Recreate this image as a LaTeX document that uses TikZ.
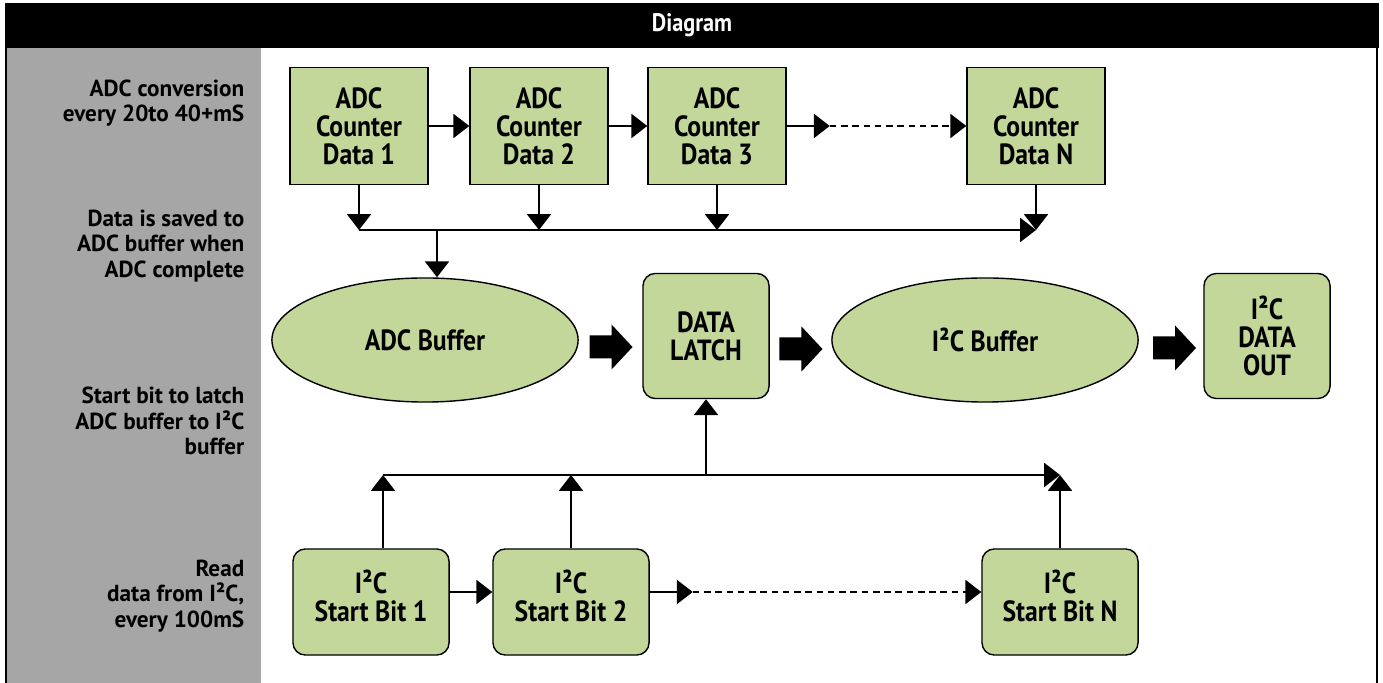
\documentclass[tikz,border=0pt]{standalone}
\usepackage{fontspec}
\setmainfont[FakeStretch=0.88]{PT Sans}
\newfontfamily\sidefont{PT Sans}
\usetikzlibrary{arrows.meta,shapes.geometric,calc}
\definecolor{boxgreen}{RGB}{196,215,155}
\definecolor{sidegray}{RGB}{166,166,166}
\newcommand{\bigarrow}[1]{\fill #1 ++(-21,-11.5) -- ++(22,0) -- ++(0,-11) -- ++(21,22.5) -- ++(-21,22.5) -- ++(0,-11) -- ++(-22,0) -- cycle;}

\begin{document}
\begin{tikzpicture}[x=0.01cm,y=-0.01cm,
        every node/.style={font=\bfseries},
        counter/.style={draw, line width=0.4pt, fill=boxgreen, minimum width=1.38cm, minimum height=1.17cm, align=center, font=\bfseries\fontsize{8.3}{8}\selectfont},
        roundbox/.style={counter, rounded corners=3.5pt},
        startbit/.style={roundbox, minimum width=1.56cm, minimum height=1.06cm, text depth=3.4pt},
        buffer/.style={ellipse, draw, line width=0.4pt, fill=boxgreen, minimum width=3.06cm, minimum height=1.24cm, font=\bfseries\fontsize{8.3}{8}\selectfont},
        sidelabel/.style={anchor=east, align=right, inner sep=0pt, font=\sidefont\bfseries\fontsize{6.6}{7.3}\selectfont},
        link/.style={line width=0.6pt, -{Triangle[length=4.5pt,width=6.8pt]}},
        dots/.style={link, dash pattern=on 1.9pt off 1.3pt},
      ]
      \useasboundingbox (0,0) rectangle (1383,683);
      % frame
      \fill[black] (6,3) rectangle (1379,48);
      \fill[sidegray] (6,48) rectangle (261,683);
      \draw[line width=0.3pt] (6,3) -- (6,683);
      \draw[line width=0.6pt] (1377,3) -- (1377,683);
      \node[text=white, font=\bfseries\fontsize{7.2}{8}\selectfont] (title) at (692,25) {Diagram};

      \node[sidelabel] (lab1) at (245,103) {ADC conversion\\every 20to 40+mS};
      \node[sidelabel] (lab2) at (245,246) {Data is saved to\\ADC buffer when\\ADC complete};
      \node[sidelabel] (lab3) at (245,421) {Start bit to latch\\ADC buffer to I²C\\buffer};
      \node[sidelabel] (lab4) at (245,596) {Read\\data from I²C,\\every 100mS};

      % ADC counters
      \node[counter] (adc1) at (359,126) {ADC\\Counter\\Data 1};
      \node[counter] (adc2) at (539,126) {ADC\\Counter\\Data 2};
      \node[counter] (adc3) at (717,126) {ADC\\Counter\\Data 3};
      \node[counter] (adcN) at (1036,126) {ADC\\Counter\\Data N};
      \coordinate (gapA) at ($(adc3.east)+(43,0)$);
      \draw[link] (adc1) -- (adc2);
      \draw[link] (adc2) -- (adc3);
      \draw[link] (adc3) -- (gapA);
      \draw[dots] (gapA) -- (adcN);

      \coordinate (topL) at (357,230);
      \coordinate (tap) at (437,230);
      \foreach \b in {adc1,adc2,adc3,adcN}
        \draw[link] (\b.south) -- (\b.south |- topL);
      \draw[link] (adc1.south |- topL) -- (adcN.south |- topL);

      % buffers and latch
      \node[buffer] (adcbuf) at (425,340) {ADC Buffer};
      \node[roundbox, minimum width=1.26cm, minimum height=1.25cm] (latch) at (706,336) {DATA\\LATCH};
      \node[buffer] (i2cbuf) at (985,340) {I²C Buffer};
      \node[roundbox, minimum width=1.26cm, minimum height=1.25cm] (out) at (1267,336) {I²C\\DATA\\OUT};
      \draw[link] (tap) -- (tap |- adcbuf.north);
      \bigarrow{($(adcbuf.east)!.5!(latch.west)+(0,9)$)}
      \bigarrow{($(latch.east)!.5!(i2cbuf.west)+(0,11)$)}
      \bigarrow{($(i2cbuf.east)!.5!(out.west)+(3,10)$)}

      % I2C start bits
      \node[startbit] (sb1) at (371,602) {I²C\\Start Bit 1};
      \node[startbit] (sb2) at (571,602) {I²C\\Start Bit 2};
      \node[startbit] (sbN) at (1060,602) {I²C\\Start Bit N};
      \coordinate (gapB) at ($(sb2.east)+(43,-10)$);
      \draw[link] (sb1.east |- gapB) -- (sb2.west |- gapB);
      \draw[link] (sb2.east |- gapB) -- (gapB);
      \draw[dots] (gapB) -- (sbN.west |- gapB);

      \coordinate (botL) at (383,475);
      \draw[link] (sb1.north -| botL) -- (botL);
      \draw[link] (sb2.north) -- (sb2.north |- botL);
      \draw[link] (sbN.north) -- (sbN.north |- botL);
      \draw[link] (botL) -- (sbN.north |- botL);
      \draw[link] (latch.south |- botL) -- (latch.south);
    \end{tikzpicture}
\end{document}
